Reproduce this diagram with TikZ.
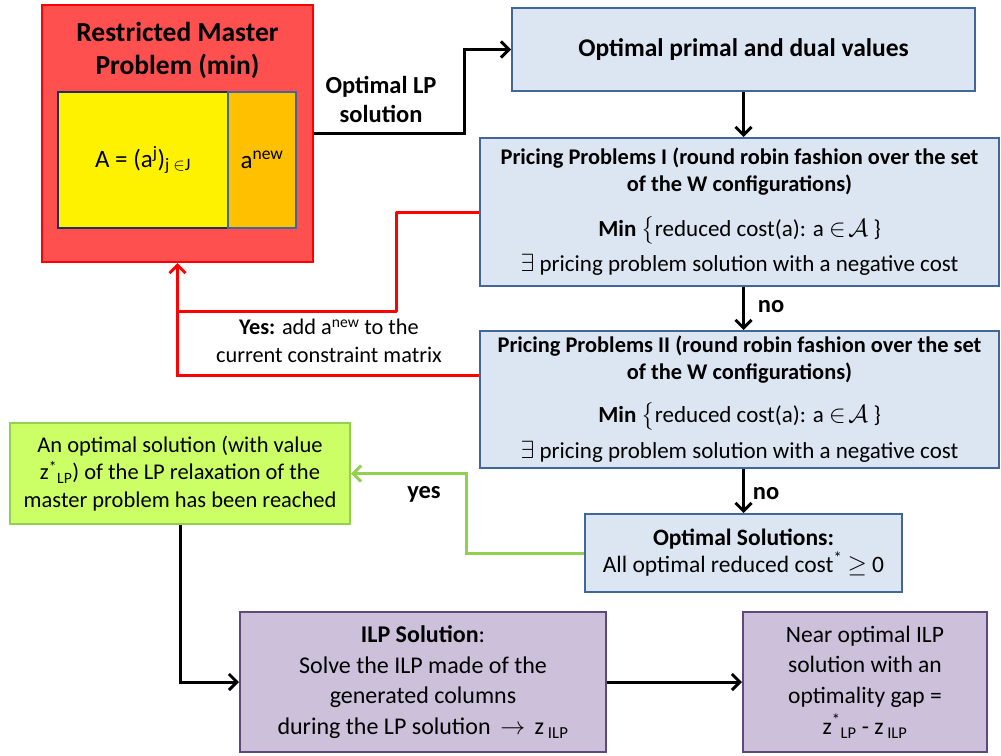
\documentclass[tikz,border=0pt]{standalone}
\usepackage{amsmath,amssymb}
\usepackage{fontspec}
\setmainfont{Carlito}
\usepackage{xcolor}
\usetikzlibrary{arrows.meta,calc}
\definecolor{rmpfill}{HTML}{FF5050}
\definecolor{rmpline}{HTML}{FF0000}
\definecolor{matline}{HTML}{1F2F5F}
\definecolor{anewfill}{HTML}{FFC000}
\definecolor{boxblue}{HTML}{DCE6F2}
\definecolor{lineblue}{HTML}{41669A}
\definecolor{boxgreen}{HTML}{CCFF66}
\definecolor{linegreen}{HTML}{92D050}
\definecolor{boxlilac}{HTML}{CCC0DA}
\definecolor{linelilac}{HTML}{5F497A}

\begin{document}
\begin{tikzpicture}[x=1pt, y=-1pt,
    every node/.style={font=\fontsize{23}{27}\selectfont, inner sep=0pt},
    blk/.style={draw, line width=2pt, align=center},
    bluebox/.style={blk, fill=boxblue, draw=lineblue},
    lab/.style={font=\fontsize{24.5}{29}\selectfont\bfseries, align=center},
    flow/.style={line width=3pt, -{Straight Barb[length=8pt,width=16pt,line width=3pt]}}]
      \useasboundingbox (0,0) rectangle (1001,755);
      % master problem
      \node[blk, fill=rmpfill, draw=rmpline, minimum width=271, minimum height=257] (rmp) at (177.5,133.5) {};
      \node[font=\fontsize{27.5}{33}\selectfont\bfseries, align=center] (rmptitle) at (177.5,50) {Restricted Master\\Problem (min)};
      \node[blk, fill=yellow, draw=matline, minimum width=170, minimum height=136, font=\fontsize{25}{30}\selectfont] (amat) at (143,160) {A = (a\textsuperscript{j})\textsubscript{j $\in$J}};
      \node[blk, fill=anewfill, draw=lineblue, minimum width=68, minimum height=136, font=\fontsize{25}{30}\selectfont] (anew) at (262,160) {a\textsuperscript{new}};
      % column generation loop
      \node[bluebox, minimum width=463, minimum height=83, font=\fontsize{25.5}{30}\selectfont\bfseries] (dual) at (743.5,49.5) {Optimal primal and dual values};
      \node[bluebox, minimum width=519, minimum height=148] (pp1) at (739.5,212) {\textbf{\fontsize{22.4}{27}\selectfont Pricing Problems I (round robin fashion over the set}\\
        \textbf{\fontsize{22.4}{27}\selectfont of the W configurations)}\\[18pt]
        \textbf{Min} $\big\{$reduced cost(a): a $\in\!\mathcal{A}$ \}\\[8pt]
        $\exists$ pricing problem solution with a negative cost};
      \node[bluebox, minimum width=519, minimum height=137] (pp2) at (739.5,399.5) {\textbf{\fontsize{22.4}{27}\selectfont Pricing Problems II (round robin fashion over the set}\\
        \textbf{\fontsize{22.4}{27}\selectfont of the W configurations)}\\[16pt]
        \textbf{Min} $\big\{$reduced cost(a): a $\in\!\mathcal{A}$ \}\\[9pt]
        $\exists$ pricing problem solution with a negative cost};
      \node[bluebox, minimum width=317, minimum height=78, font=\fontsize{23.5}{27}\selectfont] (opt) at (743.5,553) {\textbf{Optimal Solutions:}\\All optimal reduced cost\textsuperscript{*} $\geq$ 0};
      \node[blk, fill=boxgreen, draw=linegreen, minimum width=340, minimum height=101, font=\fontsize{22.5}{27.5}\selectfont] (lprel) at (180,473.5) {An optimal solution (with value\\z\textsuperscript{*}\textsubscript{LP}) of the LP relaxation of the\\master problem has been reached};
      % integer solution
      \node[blk, fill=boxlilac, draw=linelilac, minimum width=366, minimum height=140, font=\fontsize{24}{30.7}\selectfont] (ilp) at (423,682) {\textbf{ILP Solution}:\\Solve the ILP made of the\\generated columns\\during the LP solution $\,\rightarrow\,$ z\textsubscript{ ILP}};
      \node[blk, fill=boxlilac, draw=linelilac, minimum width=244, minimum height=140, font=\fontsize{23.5}{30.7}\selectfont] (near) at (865,682) {Near optimal ILP\\solution with an\\optimality gap =\\z\textsuperscript{*}\textsubscript{LP} - z\textsubscript{ ILP}};
      % connectors
      \draw[flow] (rmp.east) -- ++(150,0) |- (dual.west);
      \node[lab] (lplab) at (381,99) {Optimal LP\\solution};
      \draw[flow] (dual.south) -- (dual.south |- pp1.north);
      \draw[flow] (dual.south |- pp1.south) -- (dual.south |- pp2.north);
      \node[lab] (no1) at (771,307) {no};
      \draw[flow] (opt.north |- pp2.south) -- (opt.north);
      \node[lab] (no2) at (766,494) {no};
      \coordinate (join) at (177.5,311);
      \draw[flow, rmpline] ([yshift=24.5pt]pp2.west) -| (rmp.south);
      \draw[line width=3pt, rmpline, line join=round] (pp1.west) -- ++(-83,0) |- (join);
      \node[align=center, font=\fontsize{22.3}{28}\selectfont] (yeslab) at (329,341) {\textbf{Yes:} add a\textsuperscript{new} to the\\current constraint matrix};
      \draw[flow, linegreen] (opt.west) -- ++(-118,0) |- (lprel.east);
      \node[lab] (yes) at (424,494) {yes};
      \draw[flow] (lprel.south) |- (ilp.west);
      \draw[flow] (ilp.east) -- (near.west);
    \end{tikzpicture}
\end{document}
